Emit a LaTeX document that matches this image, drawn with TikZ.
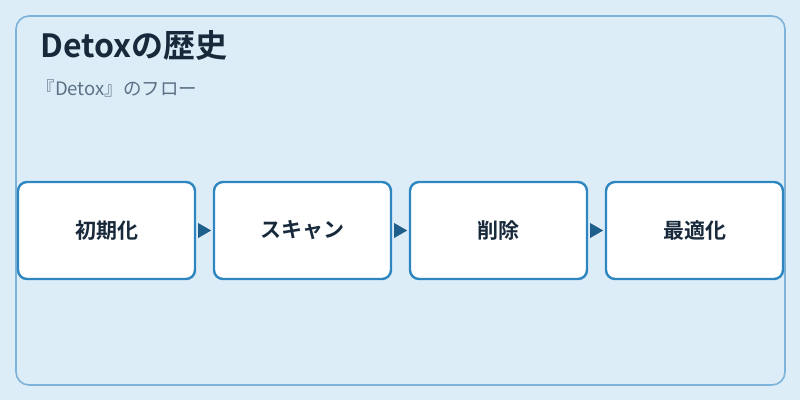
\documentclass[tikz,border=0pt]{standalone}
\usepackage{fontspec}
\setmainfont{Noto Sans CJK JP}
\newfontfamily\jpbold{Noto Sans CJK JP Bold}
\usetikzlibrary{positioning,arrows.meta}
\definecolor{bgblue}{HTML}{DDEDF8}
\definecolor{framecol}{HTML}{7DB3D8}
\definecolor{boxline}{HTML}{2E86C1}
\definecolor{arrowcol}{HTML}{1F5F8B}
\definecolor{titlecol}{HTML}{17293A}
\definecolor{subcol}{HTML}{5B7185}
\tikzset{
    stage/.style={
        rectangle,
        draw=boxline,
        line width=2.4pt,
        fill=white,
        rounded corners=9pt,
        minimum width=177pt,
        minimum height=97pt,
        inner sep=0pt,
        font=\jpbold\fontsize{21}{24}\selectfont,
        text=titlecol
    },
    flow/.style={
        -{Triangle[length=13pt,width=15pt]},
        draw=arrowcol,
        fill=arrowcol,
        line width=0.01pt
    }
}

\begin{document}
\begin{tikzpicture}[x=1pt,y=-1pt]
\useasboundingbox (0,0) rectangle (800,400);
\fill[bgblue] (0,0) rectangle (800,400);
\draw[framecol,line width=1.6pt,rounded corners=13pt] (16,16) rectangle (785,385);
\node[anchor=base west,text=titlecol,font=\jpbold\fontsize{32}{36}\selectfont,inner sep=0pt] (title) at (40,57) {Detoxの歴史};
\node[anchor=base west,text=subcol,font=\fontsize{18.5}{22}\selectfont,inner sep=0pt] (sub) at (36.5,95.5) {『Detox』のフロー};
\node[stage] (init) at (106.5,230.5) {初期化};
\node[stage,right=16.6pt of init] (scan) {スキャン};
\node[stage,right=16.6pt of scan] (del) {削除};
\node[stage,right=16.6pt of del] (opt) {最適化};
\foreach \a/\b in {init/scan,scan/del,del/opt}
  \draw[flow] ([xshift=1.8pt]\a.east) -- ([xshift=-1.8pt]\b.west);
\end{tikzpicture}
\end{document}
